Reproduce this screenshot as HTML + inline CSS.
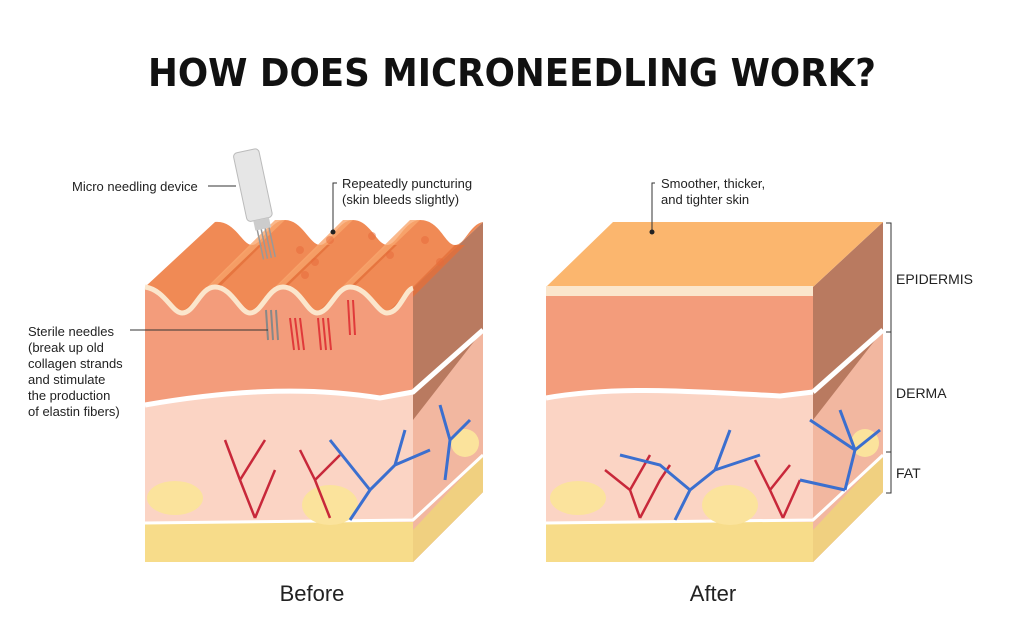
<!DOCTYPE html>
<html><head><meta charset="utf-8"><style>
body{margin:0;background:#fff;width:1024px;height:630px;overflow:hidden}
svg{display:block}
text{font-family:"Liberation Sans",sans-serif}
</style></head><body>
<svg width="1024" height="630" viewBox="0 0 1024 630">
<text x="512" y="86" text-anchor="middle" font-size="38" font-weight="bold" fill="#111" style="font-family:'DejaVu Sans','Liberation Sans',sans-serif" textLength="728" lengthAdjust="spacingAndGlyphs">HOW DOES MICRONEEDLING WORK?</text>

<!-- AFTER cube -->
<polygon points="813,287 883,222 883,492 813,562" fill="#b97a60"/>
<polygon points="813,420 883,330 883,492 813,562" fill="#f2b7a0"/>
<polygon points="813,530 883,455 883,492 813,562" fill="#f0d080"/>
<polygon points="546,287 813,287 883,222 613,222" fill="#fbb66e"/>
<rect x="546" y="286" width="267" height="10" fill="#fbe6cc"/>
<rect x="546" y="296" width="267" height="110" fill="#f39c7b"/>
<path d="M546,398 C620,385 700,392 780,396 L813,392 L813,525 L546,525Z" fill="#fbd4c4"/>
<path d="M546,398 C620,385 700,392 780,396 L813,392" stroke="#fff" stroke-width="5" fill="none"/>
<path d="M813,392 L883,330" stroke="#fff" stroke-width="5"/>
<rect x="546" y="522" width="267" height="40" fill="#f7dc8a"/>
<path d="M546,523 L813,520 L883,455" stroke="#fff" stroke-width="3" fill="none"/>
<g fill="#fbe39c"><ellipse cx="578" cy="498" rx="28" ry="17"/><ellipse cx="730" cy="505" rx="28" ry="20"/><ellipse cx="865" cy="443" rx="14" ry="14"/></g>
<g stroke="#c8283a" stroke-width="2.5" fill="none"><path d="M640,518 L630,490 L605,470 M630,490 L650,455 M640,518 L660,480 L670,465"/><path d="M783,518 L770,490 L755,460 M770,490 L790,465 M783,518 L800,480"/></g>
<g stroke="#3b6fcf" stroke-width="3" fill="none"><path d="M675,520 L690,490 L715,470 L730,430 M690,490 L660,465 L620,455 M715,470 L760,455"/><path d="M845,490 L855,450 L840,410 M855,450 L880,430 M845,490 L800,480 M855,450 L810,420"/></g>

<!-- BEFORE cube -->
<polygon points="413,288 483,222 483,492 413,562" fill="#b97a60"/>
<polygon points="413,420 483,330 483,492 413,562" fill="#f2b7a0"/>
<polygon points="413,530 483,455 483,492 413,562" fill="#f0d080"/>
<path d="M145,287 C165,290 172,313 182,313 C195,313 200,287 215,287 C232,287 240,313 250,313 C262,313 268,287 283,287 C300,287 307,313 317,313 C330,313 336,287 350,287 C368,287 377,313 387,313 C400,313 405,290 413,288 L483,222 C470,224 465,245 455,245 C445,245 440,220 420,220 C405,220 397,245 387,245 C377,245 370,220 353,220 C338,220 330,245 320,245 C310,245 302,220 285,220 C270,220 262,245 252,245 C242,245 235,220 215,222Z" fill="#f08a55"/>
<g fill="#e4703a" opacity="0.8"><path d="M182,313 L252,245 L262,245 L195,311Z"/><path d="M250,313 L320,245 L330,245 L262,311Z"/><path d="M317,313 L387,245 L397,245 L329,311Z"/><path d="M387,313 L455,245 L465,245 L399,311Z"/></g>
<g fill="#f9a76f" opacity="0.8"><path d="M215,287 L285,220 L275,220 L205,289Z"/><path d="M283,287 L353,220 L343,220 L273,289Z"/><path d="M350,287 L420,220 L410,220 L340,289Z"/></g>
<g fill="#e86a3a" opacity="0.5"><circle cx="300" cy="250" r="4"/><circle cx="315" cy="262" r="4"/><circle cx="330" cy="240" r="4"/><circle cx="372" cy="236" r="4"/><circle cx="390" cy="255" r="4"/><circle cx="425" cy="240" r="4"/><circle cx="440" cy="262" r="4"/><circle cx="305" cy="275" r="4"/></g>
<path d="M145,287 C165,290 172,313 182,313 C195,313 200,287 215,287 C232,287 240,313 250,313 C262,313 268,287 283,287 C300,287 307,313 317,313 C330,313 336,287 350,287 C368,287 377,313 387,313 C400,313 405,290 413,288 L413,410 L145,410Z" fill="#f39c7b"/>
<path d="M145,287 C165,290 172,313 182,313 C195,313 200,287 215,287 C232,287 240,313 250,313 C262,313 268,287 283,287 C300,287 307,313 317,313 C330,313 336,287 350,287 C368,287 377,313 387,313 C400,313 405,290 413,288" stroke="#fbe6cc" stroke-width="5" fill="none"/>
<path d="M145,405 C220,392 300,385 380,398 L413,392 L413,525 L145,525Z" fill="#fbd4c4"/>
<path d="M145,405 C220,392 300,385 380,398 L413,392 L483,330" stroke="#fff" stroke-width="5" fill="none"/>
<rect x="145" y="522" width="268" height="40" fill="#f7dc8a"/>
<path d="M145,523 L413,520 L483,455" stroke="#fff" stroke-width="3" fill="none"/>
<g fill="#fbe39c"><ellipse cx="175" cy="498" rx="28" ry="17"/><ellipse cx="330" cy="505" rx="28" ry="20"/><ellipse cx="465" cy="443" rx="14" ry="14"/></g>
<g stroke="#c8283a" stroke-width="2.5" fill="none"><path d="M255,518 L240,480 L225,440 M240,480 L265,440 M255,518 L275,470"/><path d="M330,518 L315,480 L300,450 M315,480 L340,455"/></g>
<g stroke="#3b6fcf" stroke-width="3" fill="none"><path d="M350,520 L370,490 L395,465 L405,430 M370,490 L330,440 M395,465 L430,450"/><path d="M445,480 L450,440 L440,405 M450,440 L470,420"/></g>
<g stroke="#e03a3a" stroke-width="2"><path d="M290,318 L294,350 M295,318 L299,350 M300,318 L304,350"/><path d="M318,318 L321,350 M323,318 L326,350 M328,318 L331,350"/><path d="M348,300 L350,335 M353,300 L355,335"/></g>
<g stroke="#888" stroke-width="2"><path d="M266,310 L268,340 M271,310 L273,340 M276,310 L278,340"/></g>
<g transform="rotate(-12 255 200)"><rect x="243" y="150" width="26" height="70" rx="4" fill="#e6e6e6" stroke="#bbb"/><rect x="249" y="220" width="16" height="10" fill="#ccc"/><g stroke="#999" stroke-width="1.5"><path d="M251,230v30M255,230v30M259,230v30M263,230v30"/></g></g>

<g font-size="13" fill="#222">
<text x="72" y="191">Micro needling device</text>
<text x="342" y="188">Repeatedly puncturing</text><text x="342" y="204">(skin bleeds slightly)</text>
<text x="28" y="336">Sterile needles</text><text x="28" y="352">(break up old</text><text x="28" y="368">collagen strands</text><text x="28" y="384">and stimulate</text><text x="28" y="400">the production</text><text x="28" y="416">of elastin fibers)</text>
<text x="661" y="188">Smoother, thicker,</text><text x="661" y="204">and tighter skin</text>
<text x="896" y="284" font-size="14">EPIDERMIS</text><text x="896" y="398" font-size="14">DERMA</text><text x="896" y="478" font-size="14">FAT</text>
</g>
<g stroke="#333" fill="none" stroke-width="1"><path d="M208,186 H236"/><path d="M337,183 H333 V232"/><path d="M130,330 H268"/><path d="M655,183 H652 V232"/><path d="M886,223 H891 V493 H886 M886,332 H891 M886,452 H891"/></g>
<g fill="#222"><circle cx="333" cy="232" r="2.5"/><circle cx="652" cy="232" r="2.5"/></g>
<text x="312" y="601" text-anchor="middle" font-size="22" fill="#222">Before</text>
<text x="713" y="601" text-anchor="middle" font-size="22" fill="#222">After</text>
</svg>
</body></html>
